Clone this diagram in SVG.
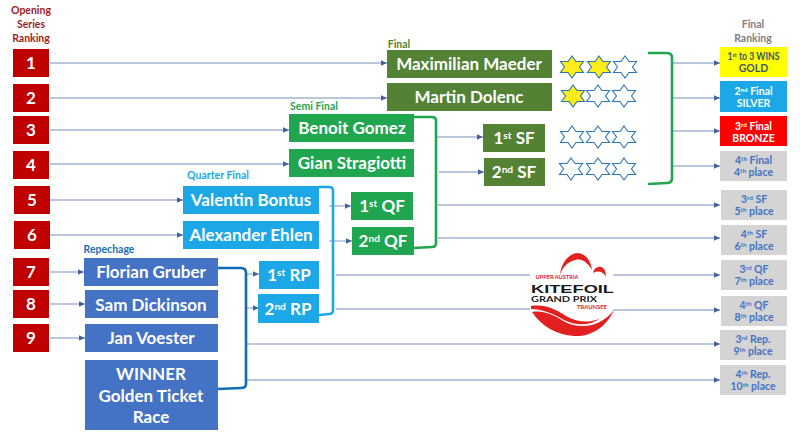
<svg xmlns="http://www.w3.org/2000/svg" width="800" height="440" viewBox="0 0 800 440">
<defs>
<marker id="a" markerUnits="userSpaceOnUse" markerWidth="7" markerHeight="7" refX="6" refY="3.500" orient="auto"><path d="M0,0.800 L6,3.500 L0,6.200 Z" fill="#44639c"/></marker>
<polygon id="s" points="0,-11 4,-5.500 11.500,-5.500 7.500,0 11.500,5.500 4,5.500 0,11 -4,5.500 -11.500,5.500 -7.500,0 -11.500,-5.500 -4,-5.500" stroke="#2e75b6" stroke-width="1.100" fill="#fff"/>
<polygon id="y" points="0,-11 4,-5.500 11.500,-5.500 7.500,0 11.500,5.500 4,5.500 0,11 -4,5.500 -11.500,5.500 -7.500,0 -11.500,-5.500 -4,-5.500" stroke="#2e75b6" stroke-width="1.100" fill="#ffed1a"/>
</defs>
<style>
text{font-family:Lato,"Liberation Sans",sans-serif;font-weight:700;text-anchor:middle}
.l{stroke:#a3b3cf;stroke-width:1.300;fill:none}
.ar{marker-end:url(#a)}
.n{fill:#fff;font-size:17px}
.rk{fill:#fff;font-size:17px}
.cap{font-size:10.500px}
.p{font-size:10.500px;fill:#4472c4}
.sm{font-size:10.500px}
.br{fill:none;stroke-width:2.600}
.red{fill:#c00000}.dg{fill:#548235}.g{fill:#1fa64f}.c{fill:#1ca7e6}.b{fill:#4472c4}.gy{fill:#d4d4d4}
.st{font-size:60%}
.lg{font-size:5.500px;fill:#e1201f}
</style>
<rect width="800" height="440" fill="#fff"/>
<g id="connectors">
<path class="l ar" d="M50 63H387"/>
<path class="l ar" d="M50 98H387"/>
<path class="l ar" d="M50 130H289"/>
<path class="l ar" d="M50 164H289"/>
<path class="l ar" d="M50 200H183"/>
<path class="l ar" d="M50 235H183"/>
<path class="l ar" d="M50 272H84"/>
<path class="l ar" d="M50 304H85"/>
<path class="l ar" d="M50 338H85"/>
<path class="l ar" d="M246 274H259"/>
<path class="l ar" d="M246 308H259"/>
<path class="l ar" d="M329 206H351"/>
<path class="l ar" d="M329 241H352"/>
<path class="l ar" d="M437 137H483"/>
<path class="l ar" d="M439 172H484"/>
<path class="l ar" d="M438 205H720"/>
<path class="l ar" d="M438 238H720"/>
<path class="l ar" d="M336 275H530M613 275H720"/>
<path class="l ar" d="M336 309H530M613 310H720"/>
<path class="l ar" d="M247 344H720"/>
<path class="l ar" d="M247 380H720"/>
<path class="l ar" d="M672 63H720"/>
<path class="l ar" d="M672 98H720"/>
<path class="l ar" d="M672 131H720"/>
<path class="l ar" d="M672 166H720"/>
<path class="br" stroke="#0f6cb5" d="M218 268H241Q246 268 246 273V384Q246 388 241 388L218 389"/>
<path class="br" stroke="#1ca7e6" d="M319 187H329Q333 187 333 191V310Q333 314 329 314L319 315"/>
<path class="br" stroke="#1fa64f" d="M413 117H432Q436 117 436 121V243Q436 247 432 247L413 248"/>
<path class="br" stroke="#1fa64f" d="M648 53H667Q672 53 672 58V178Q672 183 667 183L648 184"/>
</g>
<g id="header-opening"><text class="cap" fill="#a01c1c" x="31" y="14">Opening</text><text class="cap" fill="#a01c1c" x="31" y="28">Series</text><text class="cap" fill="#a01c1c" x="31" y="42">Ranking</text></g>
<g id="header-final-ranking"><text class="cap" fill="#808080" x="753" y="28">Final</text><text class="cap" fill="#808080" x="753" y="42">Ranking</text></g>
<g id="rank-1"><rect class="red" x="13" y="49" width="36" height="28"/><text class="rk" x="31" y="69">1</text></g>
<g id="rank-2"><rect class="red" x="13" y="84" width="36" height="28"/><text class="rk" x="31" y="104">2</text></g>
<g id="rank-3"><rect class="red" x="13" y="116" width="36" height="28"/><text class="rk" x="31" y="136">3</text></g>
<g id="rank-4"><rect class="red" x="13" y="151" width="36" height="28"/><text class="rk" x="31" y="171">4</text></g>
<g id="rank-5"><rect class="red" x="14" y="186" width="36" height="28"/><text class="rk" x="32" y="206">5</text></g>
<g id="rank-6"><rect class="red" x="14" y="221" width="36" height="28"/><text class="rk" x="32" y="241">6</text></g>
<g id="rank-7"><rect class="red" x="13" y="258" width="36" height="28"/><text class="rk" x="31" y="278">7</text></g>
<g id="rank-8"><rect class="red" x="13" y="290" width="36" height="28"/><text class="rk" x="31" y="310">8</text></g>
<g id="rank-9"><rect class="red" x="13" y="324" width="36" height="28"/><text class="rk" x="31" y="344">9</text></g>
<g id="final-label"><text class="cap" fill="#548235" x="399" y="48">Final</text></g>
<g id="semi-label"><text class="cap" fill="#1fa64f" x="314" y="110">Semi Final</text></g>
<g id="quarter-label"><text class="cap" fill="#1ca7e6" x="218" y="179">Quarter Final</text></g>
<g id="repechage-label"><text class="cap" fill="#1b6fb5" x="109" y="253">Repechage</text></g>
<g id="maeder"><rect class="dg" x="387" y="50" width="165" height="28"/><text class="n" x="469" y="70">Maximilian Maeder</text></g>
<g id="dolenc"><rect class="dg" x="387" y="83" width="165" height="28"/><text class="n" x="469" y="103">Martin Dolenc</text></g>
<g id="gomez"><rect class="g" x="289" y="114" width="125" height="28"/><text class="n" x="352" y="134">Benoit Gomez</text></g>
<g id="stragiotti"><rect class="g" x="289" y="149" width="125" height="28"/><text class="n" x="352" y="169">Gian Stragiotti</text></g>
<g id="sf1"><rect class="dg" x="483" y="124" width="62" height="28"/><text class="n" x="514" y="144">1<tspan class="st" dy="-5">st</tspan><tspan dy="5"> SF</tspan></text></g>
<g id="sf2"><rect class="dg" x="484" y="158" width="61" height="28"/><text class="n" x="514" y="178">2<tspan class="st" dy="-5">nd</tspan><tspan dy="5"> SF</tspan></text></g>
<g id="bontus"><rect class="c" x="183" y="186" width="136" height="28"/><text class="n" x="251" y="206">Valentin Bontus</text></g>
<g id="ehlen"><rect class="c" x="183" y="221" width="136" height="28"/><text class="n" x="251" y="241">Alexander Ehlen</text></g>
<g id="qf1"><rect class="g" x="351" y="192" width="62" height="28"/><text class="n" x="382" y="212">1<tspan class="st" dy="-5">st</tspan><tspan dy="5"> QF</tspan></text></g>
<g id="qf2"><rect class="g" x="352" y="227" width="62" height="28"/><text class="n" x="383" y="247">2<tspan class="st" dy="-5">nd</tspan><tspan dy="5"> QF</tspan></text></g>
<g id="rp1"><rect class="c" x="259" y="261" width="60" height="28"/><text class="n" x="289" y="281">1<tspan class="st" dy="-5">st</tspan><tspan dy="5"> RP</tspan></text></g>
<g id="rp2"><rect class="c" x="258" y="294" width="61" height="29"/><text class="n" x="288" y="315">2<tspan class="st" dy="-5">nd</tspan><tspan dy="5"> RP</tspan></text></g>
<g id="gruber"><rect class="b" x="84" y="258" width="134" height="28"/><text class="n" x="151" y="278">Florian Gruber</text></g>
<g id="dickinson"><rect class="b" x="85" y="290" width="133" height="28"/><text class="n" x="151" y="311">Sam Dickinson</text></g>
<g id="voester"><rect class="b" x="85" y="324" width="133" height="28"/><text class="n" x="151" y="344">Jan Voester</text></g>
<g id="winner"><rect class="b" x="85" y="360" width="133" height="70"/><text class="n" x="151" y="380">WINNER</text><text class="n" x="151" y="402">Golden Ticket</text><text class="n" x="151" y="423">Race</text></g>
<g id="stars">
<use href="#y" x="572" y="67"/><use href="#y" x="599" y="67"/><use href="#s" x="625" y="67"/>
<use href="#y" x="573" y="96"/><use href="#s" x="598" y="96"/><use href="#s" x="624" y="96"/>
<use href="#s" x="572" y="137"/><use href="#s" x="598" y="137"/><use href="#s" x="624" y="137"/>
<use href="#s" x="571" y="169"/><use href="#s" x="598" y="169"/><use href="#s" x="624" y="169"/>
</g>
<g id="logo">
<path d="M560 275C561 262 570 253 578 253C587 254 591 262 592 270C588 263 582 258 575 260C567 262 562 268 560 275Z" fill="#e1201f"/>
<path d="M593 273C594 268 598 266 601 267C605 268 606 273 606 277C604 272 598 270 593 273Z" fill="#e1201f"/>
<path d="M532 312C545 310 555 316 565 322C580 329 600 328 614 310C606 328 590 337 574 336C557 335 541 326 532 312Z" fill="#e1201f"/>
<path d="M531 306C545 304 555 309 566 316C578 323 592 323 601 318C590 326 576 326 564 320C552 313 542 309 531 309Z" fill="#e1201f"/>
<text class="lg" x="557" y="279" textLength="43" lengthAdjust="spacingAndGlyphs">UPPER AUSTRIA</text>
<text x="572.500" y="293" font-size="11.500" fill="#1a1a1a" style="font-family:'Liberation Sans',sans-serif" textLength="83" lengthAdjust="spacingAndGlyphs">KITEFOIL</text>
<text x="564" y="302" font-size="7" fill="#1a1a1a" textLength="66" lengthAdjust="spacingAndGlyphs">GRAND PRIX</text>
<text class="lg" x="592" y="309" textLength="30" lengthAdjust="spacingAndGlyphs">TRAUNSEE</text>
</g>
<g id="r1"><rect fill="#ffff00" x="720" y="47" width="67" height="30"/><text class="sm" fill="#44546a" x="753.500" y="60" textLength="52" lengthAdjust="spacingAndGlyphs">1<tspan class="st" dy="-3">st</tspan><tspan dy="3"> to 3 WINS</tspan></text><text class="sm" fill="#44546a" x="753.500" y="72">GOLD</text></g>
<g id="r2"><rect fill="#1ca7e6" x="720" y="81" width="67" height="31"/><text class="sm" fill="#fff" x="753.500" y="95">2<tspan class="st" dy="-3">nd</tspan><tspan dy="3"> Final</tspan></text><text class="sm" fill="#fff" x="753.500" y="107">SILVER</text></g>
<g id="r3"><rect fill="#ff0000" x="720" y="116" width="67" height="30"/><text class="sm" fill="#fff" x="753.500" y="130">3<tspan class="st" dy="-3">rd</tspan><tspan dy="3"> Final</tspan></text><text class="sm" fill="#fff" x="753.500" y="142">BRONZE</text></g>
<g id="r4"><rect class="gy" x="720" y="151" width="67" height="30"/><text class="p" x="753.500" y="164">4<tspan class="st" dy="-3">th</tspan><tspan dy="3"> Final</tspan></text><text class="p" x="753.500" y="176">4<tspan class="st" dy="-3">th</tspan><tspan dy="3"> place</tspan></text></g>
<g id="r5"><rect class="gy" x="721" y="190" width="66" height="30"/><text class="p" x="754" y="203">3<tspan class="st" dy="-3">rd</tspan><tspan dy="3"> SF</tspan></text><text class="p" x="754" y="215">5<tspan class="st" dy="-3">th</tspan><tspan dy="3"> place</tspan></text></g>
<g id="r6"><rect class="gy" x="721" y="225" width="66" height="30"/><text class="p" x="754" y="238">4<tspan class="st" dy="-3">th</tspan><tspan dy="3"> SF</tspan></text><text class="p" x="754" y="250">6<tspan class="st" dy="-3">th</tspan><tspan dy="3"> place</tspan></text></g>
<g id="r7"><rect class="gy" x="721" y="260" width="66" height="30"/><text class="p" x="754" y="273">3<tspan class="st" dy="-3">rd</tspan><tspan dy="3"> QF</tspan></text><text class="p" x="754" y="285">7<tspan class="st" dy="-3">th</tspan><tspan dy="3"> place</tspan></text></g>
<g id="r8"><rect class="gy" x="721" y="296" width="66" height="30"/><text class="p" x="754" y="309">4<tspan class="st" dy="-3">th</tspan><tspan dy="3"> QF</tspan></text><text class="p" x="754" y="321">8<tspan class="st" dy="-3">th</tspan><tspan dy="3"> place</tspan></text></g>
<g id="r9"><rect class="gy" x="720" y="330" width="66" height="30"/><text class="p" x="753" y="343">3<tspan class="st" dy="-3">rd</tspan><tspan dy="3"> Rep.</tspan></text><text class="p" x="753" y="355">9<tspan class="st" dy="-3">th</tspan><tspan dy="3"> place</tspan></text></g>
<g id="r10"><rect class="gy" x="720" y="365" width="66" height="30"/><text class="p" x="753" y="378">4<tspan class="st" dy="-3">th</tspan><tspan dy="3"> Rep.</tspan></text><text class="p" x="753" y="390">10<tspan class="st" dy="-3">th</tspan><tspan dy="3"> place</tspan></text></g>
</svg>
